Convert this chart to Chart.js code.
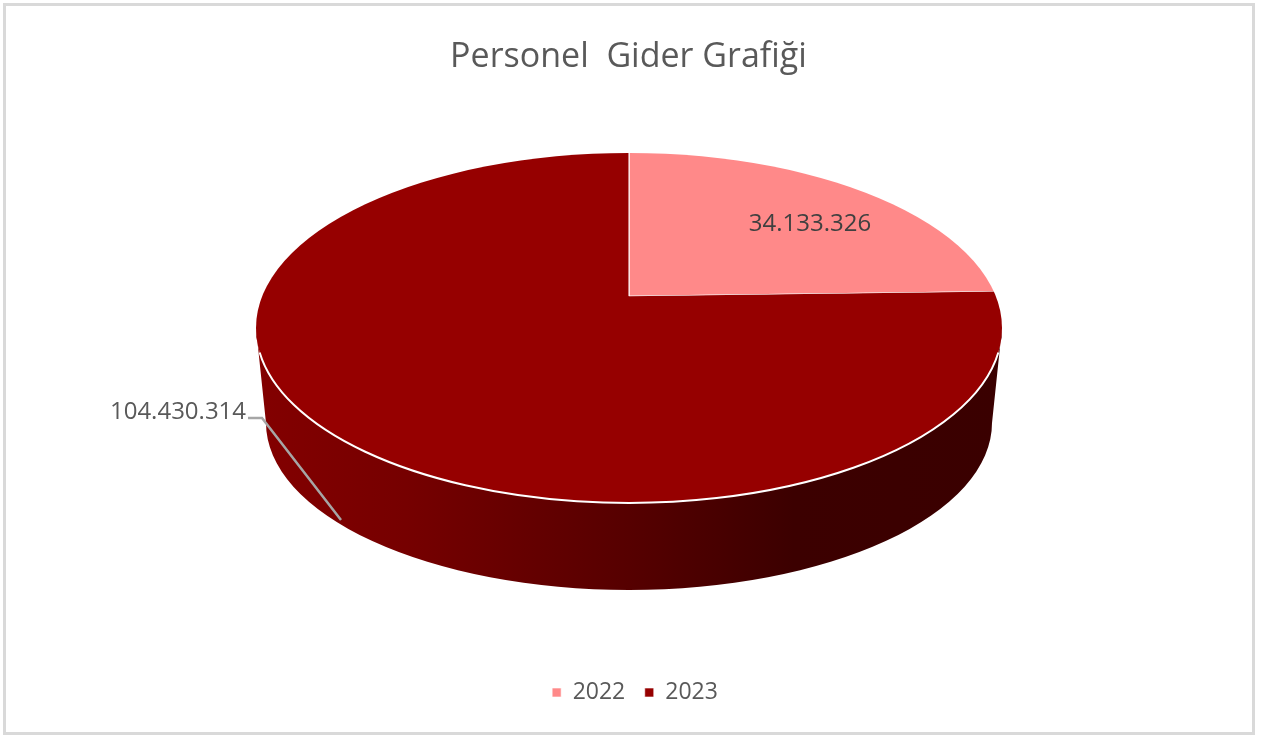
<!DOCTYPE html>
<html>
<head>
<meta charset="utf-8">
<style>
  html, body { margin: 0; padding: 0; background: #fff; }
  canvas { display: block; }
</style>
<script src="https://cdn.jsdelivr.net/npm/chart.js@4/dist/chart.umd.min.js"></script>
</head>
<body>
<canvas id="giderChart" width="1261" height="735"></canvas>
<script>
const years = ["2022", "2023"];
const giderValues = [34133326, 104430314];
const sliceColors = ["#ff8989", "#960000"];
const chartTitle = "Personel  Gider Grafiği";

const fontName = "'Open Sans', 'Noto Sans', sans-serif";

// top face of the tilted pie and the rim below it
const top3d = { x: 629, y: 328, rx: 373, ry: 175 };
const bottom3d = { x: 629, y: 423, rx: 363, ry: 167 };
const pivot = { x: 629, y: 296 };

const formatValue = (v) => v.toLocaleString("tr-TR");

const framePlugin = {
  id: "frame",
  afterLayout(chart) {
    // nudge title and legend off the canvas centre
    chart.titleBlock.left -= 2;
    chart.titleBlock.right -= 2;
    chart.legend.left += 4.5;
    chart.legend.right += 4.5;
  },
  beforeDraw(chart) {
    const ctx = chart.ctx;
    ctx.save();
    ctx.fillStyle = "#fff";
    ctx.fillRect(0, 0, chart.width, chart.height);
    ctx.strokeStyle = "#d9d9d9";
    ctx.lineWidth = 3;
    ctx.strokeRect(4.5, 4.5, 1249, 729);
    ctx.restore();
  },
};

const tiltPlugin = {
  id: "tilt",
  beforeDatasetsDraw(chart) {
    const ctx = chart.ctx;
    const arc = chart.getDatasetMeta(0).data[0];

    // side wall
    const wall = ctx.createLinearGradient(top3d.x - top3d.rx, 0, top3d.x + top3d.rx, 0);
    wall.addColorStop(0, "#830000");
    wall.addColorStop(0.2, "#760000");
    wall.addColorStop(0.5, "#560000");
    wall.addColorStop(0.72, "#3c0000");
    wall.addColorStop(1, "#3a0000");
    ctx.save();
    ctx.beginPath();
    ctx.ellipse(top3d.x, top3d.y, top3d.rx, top3d.ry, 0, 0, Math.PI);
    ctx.ellipse(bottom3d.x, bottom3d.y, bottom3d.rx, bottom3d.ry, 0, Math.PI, 0, true);
    ctx.closePath();
    ctx.fillStyle = wall;
    ctx.fill();
    ctx.restore();

    // top face: the arcs are squashed around the off-centre pivot and cut by the ellipse
    const sx = (1.3 * top3d.rx) / arc.outerRadius;
    const sy = sx * 0.55;
    ctx.save();
    ctx.beginPath();
    ctx.ellipse(top3d.x, top3d.y, top3d.rx, top3d.ry, 0, 0, Math.PI * 2);
    ctx.clip();
    ctx.translate(pivot.x, pivot.y);
    ctx.scale(sx, sy);
    ctx.translate(-arc.x, -arc.y);
  },
  afterDatasetsDraw(chart) {
    const ctx = chart.ctx;
    ctx.restore();

    // white rim on the front edge
    ctx.save();
    ctx.strokeStyle = "#fff";
    ctx.lineWidth = 2;
    ctx.beginPath();
    ctx.ellipse(top3d.x, top3d.y, top3d.rx, top3d.ry, 0, 0.14, Math.PI - 0.14);
    ctx.stroke();

    // leader line
    ctx.strokeStyle = "#a6a6a6";
    ctx.lineWidth = 2.5;
    ctx.beginPath();
    ctx.moveTo(248, 418);
    ctx.lineTo(262, 418);
    ctx.lineTo(341, 520);
    ctx.stroke();

    // value labels
    ctx.font = "24px " + fontName;
    ctx.textBaseline = "middle";
    ctx.textAlign = "center";
    ctx.fillStyle = "#404040";
    ctx.fillText(formatValue(giderValues[0]), 810, 224);
    ctx.fillStyle = "#595959";
    ctx.fillText(formatValue(giderValues[1]), 178, 412);
    ctx.restore();
  },
};

new Chart(document.getElementById("giderChart"), {
  type: "pie",
  data: {
    labels: years,
    datasets: [
      {
        data: giderValues,
        backgroundColor: sliceColors,
        borderColor: "#ffffff",
        borderWidth: 0.6,
        clip: false,
      },
    ],
  },
  options: {
    responsive: false,
    animation: false,
    layout: { padding: { top: 36.5, bottom: 21 } },
    plugins: {
      title: {
        display: true,
        text: chartTitle,
        color: "#595959",
        font: { family: fontName, size: 34, weight: "normal" },
        padding: { top: 0, bottom: 20 },
      },
      legend: {
        position: "bottom",
        labels: {
          boxWidth: 9,
          boxHeight: 9,
          color: "#595959",
          font: { family: fontName, size: 23 },
          padding: 19.5,
        },
      },
      tooltip: { enabled: false },
    },
  },
  plugins: [framePlugin, tiltPlugin],
});
</script>
</body>
</html>
